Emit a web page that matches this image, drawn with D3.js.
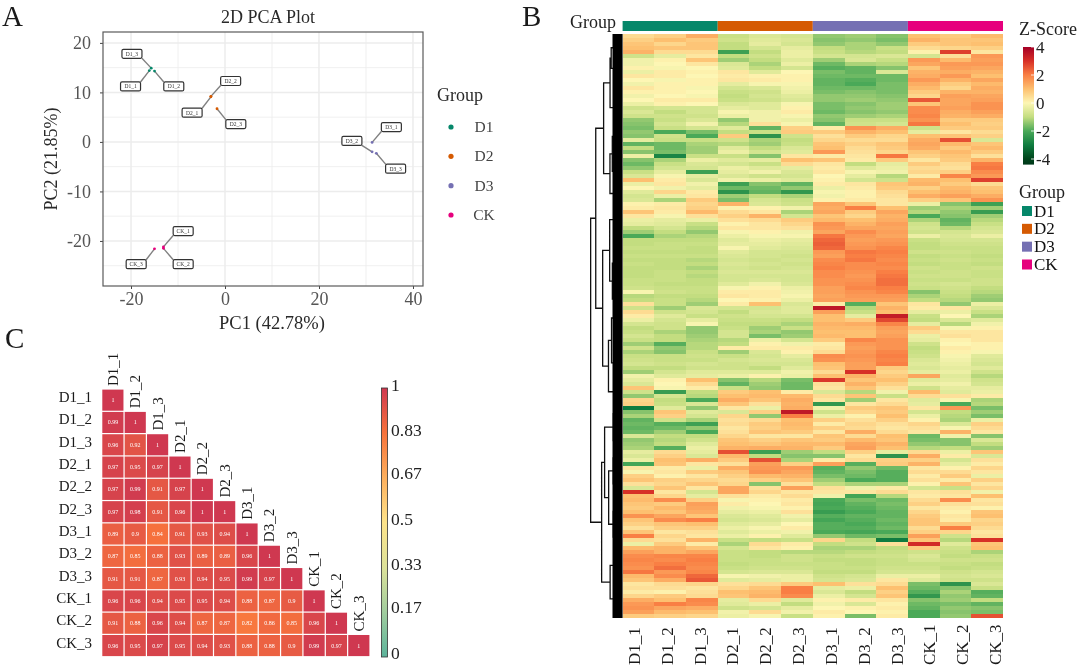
<!DOCTYPE html>
<html>
<head>
<meta charset="utf-8">
<script src="https://cdn.jsdelivr.net/npm/d3@7"></script>
<style>
html, body { margin: 0; padding: 0; background: #fff; }
svg { display: block; filter: blur(0.35px); }
text { font-family: "Liberation Serif", serif; }
</style>
</head>
<body>
<svg id="fig" width="1080" height="668"></svg>
<script>
// samples and groups
var groups = ["D1", "D2", "D3", "CK"];
var groupColors = ["#05876a", "#d55a02", "#7570b3", "#e6007d"];
var samples = ["D1_1", "D1_2", "D1_3", "D2_1", "D2_2", "D2_3", "D3_1", "D3_2", "D3_3", "CK_1", "CK_2", "CK_3"];

// PCA scores, same order as samples
var pc1 = [-16.1, -15.0, -15.7, -3.0, -3.0, -1.7, 31.3, 31.3, 32.2, -13.1, -13.1, -15.0];
var pc2 = [14.4, 14.3, 14.9, 9.1, 9.2, 6.7, -0.1, -2.0, -2.3, -21.2, -21.5, -21.6];
// where the repelled labels sit, in PC units
var labelPc1 = [-20.1, -10.9, -19.8, -7.0, 1.2, 2.3, 35.4, 27.0, 36.3, -8.9, -8.9, -18.9];
var labelPc2 = [11.2, 11.2, 17.8, 5.9, 12.3, 3.6, 3.0, 0.2, -5.4, -18.0, -24.7, -24.7];
var pcaXTicks = [-20, 0, 20, 40];
var pcaYTicks = [-20, -10, 0, 10, 20];
var pcaXMinor = [-10, 10, 30];
var pcaYMinor = [-25, -15, -5, 5, 15];

// correlation matrix, lower triangle
var corr = [
  [1],
  [0.99, 1],
  [0.96, 0.92, 1],
  [0.97, 0.95, 0.97, 1],
  [0.97, 0.99, 0.91, 0.97, 1],
  [0.97, 0.98, 0.91, 0.96, 1, 1],
  [0.89, 0.9, 0.84, 0.91, 0.93, 0.94, 1],
  [0.87, 0.85, 0.88, 0.93, 0.89, 0.89, 0.96, 1],
  [0.91, 0.91, 0.87, 0.93, 0.94, 0.95, 0.99, 0.97, 1],
  [0.96, 0.96, 0.94, 0.95, 0.95, 0.94, 0.88, 0.87, 0.9, 1],
  [0.91, 0.88, 0.96, 0.94, 0.87, 0.87, 0.82, 0.86, 0.85, 0.96, 1],
  [0.96, 0.95, 0.97, 0.95, 0.94, 0.93, 0.88, 0.88, 0.9, 0.99, 0.97, 1]
];
var corrTicks = [0, 0.17, 0.33, 0.5, 0.67, 0.83, 1];
var corrColors = ["#5cb39b", "#a2cd9e", "#dce29a", "#fde38a", "#fdae5c", "#f8743c", "#cf3850"];

// heatmap z-scores, top to bottom
var heatTop = [
  [.5,.7,1.3,-.9,-.6,-.7,-1.4,-1.3,-1.5,1,.8,1.1],
  [.7,1,.8,-.8,-.5,-.6,-1.5,-1.4,-1.6,1.2,.9,.9],
  [.9,.6,.9,-1,-.4,-.7,-1.4,-1.2,-1.4,.8,.9,1],
  [1,.9,.9,-1,-.7,-.4,-1,-1.2,-.9,.5,.6,.7],
  [1.2,.5,.5,-2.2,-1,-.3,-.9,-1.1,-1,.1,2.8,.3],
  [-.8,-.4,.3,-1,-.8,-.3,-.7,-.7,-.6,-.7,.4,1.6],
  [-.2,.1,.9,-1.3,-1,-.5,-1.3,-.6,-.9,1.6,1.1,1.5],
  [-.2,0,.3,-.6,-1.2,-.3,-1.7,-1.2,-1.1,1.4,1.6,1.6],
  [.1,-.1,0,-.5,-1,-.7,-1.9,-1.8,-1.5,.9,1.5,1.4],
  [-.3,.2,.1,.3,-.5,0,-1.6,-1.8,-.6,1.2,1.3,1.2],
  [.3,.2,0,.2,.1,.1,-1.7,-1.7,-1.7,1.3,1.6,1],
  [0,-.1,.1,.3,.2,.1,-1.8,-1.9,-1.7,1.6,1.2,1.4],
  [-.2,.1,.1,-.4,-.1,-.1,-1.8,-2,-1.6,1.3,.8,1.1],
  [.3,.1,-.1,-.7,-.6,-.2,-1.7,-1.7,-1.6,1.1,.6,1.3],
  [.1,.1,0,-.9,-.8,-.3,-1.6,-1.5,-1.6,.8,1.2,1.2],
  [-.2,0,-.1,-1,-.7,-.5,-1.4,-1.4,-1.5,.6,1.5,1.4],
  [0,.2,.2,-.9,-.8,-.6,-1.4,-1.3,-1.4,2.5,1.4,1.5],
  [-.3,.1,0,-.6,-.5,-.1,-1.6,-1.5,-1.3,.9,1.4,1.7],
  [-.8,-.7,-.7,-.4,-.5,.1,-1.6,-1.4,-1.3,1.8,1.5,1.7],
  [-.6,-1,-.7,-.1,-.2,.2,-1.7,-1.5,-1.4,1.8,1.3,1.5],
  [-.8,-.8,-.8,-.3,-.2,-.1,-1.4,-1.3,-1.2,1.9,1.2,1.3],
  [-1.4,-.9,-.6,-1.4,-.2,-.3,-1.5,-.9,-.9,1.7,.8,.8],
  [-1.5,-.7,-.2,-1.1,.4,-.1,-1.8,-.8,-.7,2.1,1,.7],
  [-1.6,-.9,-.7,-.5,-1.8,.7,.2,1.7,1.3,-.8,.8,.8],
  [-1.4,-2,-1.6,-1,-.9,.8,.8,1.2,1,-.4,.3,.5],
  [-1.5,-.8,-2,.8,-2.5,-.8,.4,.8,.6,1,.9,.7],
  [-.4,-.9,-.9,-.8,-1.2,-1,.6,.5,.5,1.3,2.6,-.6],
  [-1.8,-1.7,-1.2,-1.1,-1.3,-.9,.9,.7,.9,1.4,1.1,.9],
  [-1,-1.7,-1.3,-.5,-1,-.6,1,.5,.8,1.3,.8,1.1],
  [-1.5,-1.6,-1.3,-.3,-.7,-.5,1.6,.4,.6,.9,1.1,.8],
  [-.3,-2.8,-.9,-.9,-1.5,.3,.2,.3,2.1,.7,.9,.4],
  [-1.5,-1.2,-.3,-.5,-.4,1,.9,.2,.8,.3,.8,1.2],
  [-1.7,-.9,-.6,-.7,-.9,.5,.3,-1,-.4,.8,.5,2],
  [-1.4,-.7,-.7,-.3,-.5,-.4,.2,-.5,-.3,.5,.4,2.1],
  [-.9,-.4,-2.2,-.4,-.2,-.6,.3,-.1,-.2,.6,.7,1.8],
  [-.6,-.1,-.4,-.6,-.8,-.7,0,-.4,-1.1,.2,1.9,1.6],
  [1,.2,-.6,-.2,-.3,-.5,.1,-.7,-.8,1.1,1,2.8]
];
var heatUpper = [
  [-.3,.3,-.2,-2.2,-1.5,-1.8,.2,.3,.9,1.2,.8,.5],
  [0,-.2,-.4,-1.7,-1.7,-1.4,-.3,.2,.8,.7,1.1,.9],
  [-.5,.6,.2,-2.5,-1.8,-2.4,-.1,.1,.5,1,1.2,1],
  [-.7,-.3,.3,-1.3,-1,-1.2,-.2,.1,.4,1.3,1.5,1.3],
  [-.6,-1.2,.8,-1.6,-.7,-.9,.1,.2,.3,.7,.9,1.7],
  [.1,.2,.6,1.2,-.6,-.8,1.4,.9,.3,-.3,-1.5,-2.2],
  [.2,.3,.7,.1,.1,-.2,1.3,2,1,-1.3,-1.2,-1.3],
  [.9,.2,1.1,.5,.3,-1.2,1.4,.8,1.4,-1.1,-1.4,-2.3],
  [.3,-.1,.4,.7,1.2,-.7,.9,.6,1.2,-2,-1.5,-1.3],
  [-.3,-.4,-.3,.4,.5,.8,1.1,1,1.3,-1.2,-1.8,-1.1],
  [-.4,-.5,-.9,.1,.3,.6,1.7,1.2,1.5,-.8,-1.7,-.9],
  [-1,-.7,-1.1,.3,.3,.4,1.6,1.4,1.4,-.7,-1.1,-.7],
  [-1.3,-1,-1.4,-.1,.1,-.2,1.4,1.8,1.5,-.8,-.7,-.6],
  [-2,-1.2,-1.1,-.3,-.1,-.1,2.1,1.6,1.4,-.3,-.6,-.3],
  [-1,-1,-1,-.5,-.3,-.4,2.3,1.5,1.6,-.9,-.7,-.7],
  [-1,-.9,-.9,-.4,-.4,-.5,2.4,1.6,1.7,-1,-.8,-.8],
  [-.9,-.9,-1,-.1,-.5,-.6,2.3,1.7,1.9,-1,-.9,-.9],
  [-1,-1,-1,-.5,-.7,-.7,1.6,2.1,2,-.8,-.8,-.9],
  [-.9,-.9,-.9,-.6,-.7,-.8,1.5,2,1.9,-1,-.9,-1],
  [-1,-1,-1.1,-.7,-.8,-.7,1.8,2.1,1.8,-.9,-.8,-.9],
  [-.9,-1,-1,-.6,-.7,-.8,1.9,1.8,1.9,-1,-.9,-1],
  [-1,-1,-1.2,-.7,-.8,-.7,2,1.8,1.8,-.8,-.9,-.8],
  [-1,-.9,-1,-.6,-.6,-.6,1.8,1.7,2,-.9,-.8,-.9],
  [-1,-.9,-1.1,-.7,-.7,-.7,1.8,1.6,2.1,-.8,-.8,-.9],
  [-.9,-.9,-1,-.7,-.6,-.7,1.7,1.7,2.2,-.9,-.9,-.8],
  [-.9,-1,-1,-.5,-.2,-.6,1.7,1.8,2.2,-.8,-.7,-.8],
  [-.8,-.9,-.9,-.1,.1,-.3,1.5,1.9,2,-.9,-.8,-1],
  [-.1,-.8,-.9,.2,.2,-.2,1.5,1.7,1.9,-1.5,-.9,-1.1],
  [-1.1,-1,-1,.3,.2,-.1,1.4,1.6,1.6,-1.2,-1,-1.3],
  [-1,-.9,-1.1,0,.1,-.3,1.5,1.5,1.5,-1,-1.1,-1.4],
  [.4,-.9,-1.3,.2,1,-.6,.2,-1.9,.9,.3,-1.4,-.3],
  [-.8,-1.3,-.6,-.7,-.7,-.5,3.5,-1.1,1.2,.2,.3,-.6],
  [.5,-.8,-.7,-1,-.6,-.5,1.5,-.9,1,-.4,-.3,-.9],
  [.2,-.5,-.9,-.8,-.7,-.7,1,-.4,3.4,-.9,0,-1.2],
  [-.3,-.7,-.4,-.9,-.9,-1,1,.8,2.7,-1,-.6,-.5]
];
var heatLower = [
  [-.7,-.8,-.1,-1,-1,-1.2,1.2,1.3,1.9,-.4,-1.1,-.2],
  [-1,-.8,-1.4,-.9,-1.3,-.9,1.1,1.1,1.5,.8,-.1,.1],
  [-.9,-1.2,-1.4,-.7,-1.2,-1.4,1,1,1.4,.5,.3,.3],
  [-.7,-1,-1.3,-.7,-1.6,-1.3,1.1,1,1.5,-.3,.4,.3],
  [-.9,-1,-1.2,-1.1,-.3,-.7,.8,1.9,1.7,-.4,.1,.3],
  [-1.3,-1.9,-1.1,-1,.1,-.2,.2,1.6,1.7,-.8,0,.1],
  [-.8,-1.4,-1.1,.2,.2,.2,.3,1.5,1.7,-1,.2,.1],
  [-1.2,-1.5,-.9,-1.3,-.6,.1,.5,1.6,1.9,-.9,.1,-.1],
  [-.9,-.9,-.8,-.9,-.7,-.4,1.8,1.7,2,-.8,-.1,-.5],
  [-.8,-.9,-.9,-.7,-.6,-.6,1.7,1.6,1.9,-.6,-.2,-.6],
  [-.7,-.8,-.7,-.8,-.7,-.7,1,1.5,2,-.5,-.3,-.7],
  [-1,-1,-.8,-.8,-1,-.5,.9,1.5,.8,-.6,-.4,-.5],
  [-1.3,-.7,-.5,-.5,-.5,-.2,.5,3,.6,-.4,-.3,-.8],
  [-.2,-.5,-.4,-.3,.1,-.3,1,1.2,.8,1.4,-.5,-1.1],
  [-.4,.1,1,-1.5,-1.1,-1.6,2.9,.9,1,-.5,-.4,-.8],
  [-.6,0,.5,-1.8,-1.3,-1.7,.4,1.2,.7,-.3,-.2,-.7],
  [.9,-.1,.2,-.9,-1.4,-1.7,.3,.9,.4,-.8,-.4,-.4],
  [-.8,-2.3,-1,.8,1,.2,-.6,-1.1,-.2,1.1,-.5,-.3],
  [-1.4,-.7,-1.1,1,1.1,1.1,.5,.9,-.9,.5,.4,.2],
  [.6,-1,-2,1.3,.9,1.3,.3,-1.3,.3,-.5,-.1,-1.2],
  [.7,-.9,-.6,.9,.4,1.2,-2.4,.3,.5,-.4,-2,-1.1],
  [-3,-.5,-1.4,.3,-.3,1.3,-.2,.8,.9,.3,1.6,-1.6],
  [-1.5,.9,-.5,-.6,.7,3.5,-.8,.6,.8,-.7,-1,-1.3],
  [-1.2,.7,-.7,.6,-1.4,2,-.3,.1,1,-.3,-1.1,-1.6],
  [-1.8,-.8,-1.2,.4,.5,1,.7,.4,.7,.1,-1.2,-.3],
  [-1.7,-1.9,-2.2,.5,.8,1.1,.2,.6,.4,.6,-.6,.7],
  [-1.8,-1.7,-1.4,.3,.7,1,.7,.5,.3,.4,-.1,.5],
  [-1.7,-1.3,-2,.4,.9,.8,.3,1.3,.5,.3,1.2,.3],
  [-.6,-1,-1,.6,.3,.3,.9,.5,1,-1.7,-.2,-1.5],
  [-1.4,-1.1,-.8,.9,.7,.9,.8,1.1,.9,-1.6,-1.5,-.6],
  [-1.3,-1,-.5,1,.9,1.1,1.1,1.4,1.2,-1.4,-1.5,-1],
  [-1.2,-1.9,-.3,1.2,1.3,1.2,.8,1.5,1,-1.1,-1,-1.3],
  [-.4,.5,-.4,2.6,-2.2,-1.3,-1,.7,-.4,.5,-.3,.9],
  [-.6,.7,-.6,1.1,-1,-1.5,-1.5,.3,-2.5,1.3,.2,-.6],
  [-.3,1,1.3,.8,2.6,-1.2,.2,.5,.7,.7,-.7,.4],
  [-2.1,.9,.3,.4,1.5,.7,1.5,-1.9,.8,1.2,-.4,.2]
];
var heatBottom = [
  [.3,.2,-.3,1.3,1.6,1.6,-1.9,-1.4,-1.7,.3,.1,.6],
  [-.1,.3,.8,.9,1.7,1.4,-1.8,-1.6,-1.9,.5,.5,.3],
  [.7,.1,.3,.7,1.1,1.2,-1.6,-1.7,-1.9,.2,.8,-.3],
  [.9,.7,.6,.5,.7,.9,-1.3,-2,-1.9,.4,.2,.7],
  [.4,.6,.9,.6,-1.5,.4,-1,-1.2,-1.2,.1,.9,.3],
  [-.6,.9,.3,1.4,.4,1.5,.4,-.2,.2,-.7,-.9,.6],
  [3,.3,-.7,1.4,.6,.3,.3,.3,.5,.3,.4,-.2],
  [1,.6,-.4,.4,.2,.5,-.2,-2.1,-1.1,.2,.3,1],
  [1.1,1.8,.7,-.1,.1,.2,-2,-1.6,-1.7,.5,1.8,.3],
  [.9,.8,1.5,.2,0,.3,-2.1,-1.8,-1.6,.7,.4,.4],
  [.8,1.1,1.4,-.2,-.1,.1,-2,-1.9,-1.7,.3,.2,.1],
  [1,.9,1.3,-.4,-.3,.4,-2.3,-2,-1.8,.6,.1,.9],
  [1.7,1.4,.9,-.6,-.5,-.2,-1.9,-1.8,-1.8,.8,.3,1],
  [.9,1.8,2,-.7,-.6,-.4,-2.1,-1.9,-1.7,.9,.2,.6],
  [.7,.9,1,-.5,-.4,0,-1.9,-2,-1.8,.9,.8,.7],
  [.4,.7,.7,-.3,-.1,.2,-1.9,-1.9,-1.7,.5,2,.5],
  [.9,.3,.4,-.5,-.3,-.2,-2,-2.1,-2,.7,.6,.3],
  [2,.6,.3,-.3,.1,-.5,-1.4,-1.7,-1.6,1.5,-.8,.4],
  [.5,.4,1.2,-.9,-1,-.9,.6,-1,-3,.9,-1.1,3],
  [-.3,.8,.2,-1.2,.5,.2,-1,-.8,.4,3.1,-.5,.9],
  [1.1,1.2,.9,-.7,.3,.1,-1.2,-1.2,-1,.8,-.8,1],
  [1.5,1.2,1.4,-.9,-1,-1.1,-1.1,-1,-.9,-.8,-.9,-1.2],
  [1.8,1.9,1.9,-.9,-1,-.8,-.9,-.8,-.8,-.6,-1,-.9],
  [1.9,1.8,2,-.9,-.9,-.8,-1,-1,-.9,-.7,-.8,-.8],
  [1.8,2,1.9,-1,-.9,-.9,-.9,-1,-.9,-.9,-.9,-1],
  [1.7,2.2,1.8,-.9,-.8,-.8,-.9,-.9,-.8,-.8,-1,-.9],
  [2.1,1.6,1.9,-.7,-.6,-.6,-1,-1,-.7,-.7,-.8,-.7],
  [1.1,1.8,2.3,-.1,-.2,-.3,-.8,-.7,-.3,-.3,-.7,-.6],
  [.9,1.3,2.5,-.5,-.4,-.3,-.7,-.6,.3,-.5,-.8,-.8],
  [.3,.5,.6,.4,.5,.8,1,.4,.5,-1.6,-2.5,-.6],
  [.4,.4,.3,.6,.9,2,-.4,-.3,1,-1.7,-1.5,-.9],
  [.2,.1,.4,1,1.1,2,-.6,-1,.7,-1.9,-1.2,-1.9],
  [.6,.8,.5,.9,1.2,1.8,-.3,-.7,.9,-2.4,-1.4,-1.8],
  [1.3,1,1.9,-.4,.5,-.5,.1,.2,.3,-1.5,-1.3,-1],
  [1.6,2,1.8,-.5,-.3,-1,-.2,-.6,.1,-1.7,-1.6,-1.8],
  [1.7,1.4,1.3,-.8,-.7,-.4,0,.1,.2,-1.8,-1.4,-1.5],
  [1.5,1.1,1,-.2,.5,-.2,.2,0,.1,-2,-1.5,-1.6],
  [.8,.7,.6,-.3,-.1,-.9,.1,-1.6,.2,-2,-1.4,2.6]
];
var heatRows = heatTop.concat(heatUpper, heatLower, heatBottom);
var zTicks = [-4, -2, 0, 2, 4];
var zStops = [-4.4, -4, -3, -2, -1, 0, 1, 2, 3, 4];
var zColors = ["#00381a", "#00441b", "#0f7c40", "#4aa958", "#c3dd80", "#fdf6b4", "#fdc070", "#f97f44", "#d73027", "#a50026"];

var svg = d3.select("#fig");
var ink = "#1a1a1a";
var tickInk = "#555";

function txt(x, y, s, size, anchor, fill) {
  return svg.append("text").attr("x", x).attr("y", y).text(s)
    .attr("font-size", size).attr("text-anchor", anchor || "start")
    .attr("fill", fill || ink);
}

// panel letters
txt(2, 26, "A", 29);
txt(522, 26, "B", 29);
txt(5, 348, "C", 29);

// ---------- A: PCA ----------
var pca = { left: 103, right: 423, top: 32, bottom: 286 };
var px = d3.scaleLinear().domain([-25.96, 42.13]).range([pca.left, pca.right]);
var py = d3.scaleLinear().domain([22.2, -29.1]).range([pca.top, pca.bottom]);
var gridG = svg.append("g");
function gridLines(xs, ys, w) {
  gridG.selectAll(null).data(xs).enter().append("line")
    .attr("x1", px).attr("x2", px).attr("y1", pca.top).attr("y2", pca.bottom)
    .attr("stroke", "#ececec").attr("stroke-width", w);
  gridG.selectAll(null).data(ys).enter().append("line")
    .attr("y1", py).attr("y2", py).attr("x1", pca.left).attr("x2", pca.right)
    .attr("stroke", "#ececec").attr("stroke-width", w);
}
gridLines(pcaXMinor, pcaYMinor, 0.8);
gridLines(pcaXTicks, pcaYTicks, 1.5);

var xAxisG = svg.append("g").attr("transform", "translate(0," + pca.bottom + ")")
  .call(d3.axisBottom(px).tickValues(pcaXTicks).tickFormat(String).tickSize(3).tickPadding(3));
var yAxisG = svg.append("g").attr("transform", "translate(" + pca.left + ",0)")
  .call(d3.axisLeft(py).tickValues(pcaYTicks).tickFormat(String).tickSize(3).tickPadding(9));
[xAxisG, yAxisG].forEach(function(g) {
  g.select(".domain").remove();
  g.selectAll("line").attr("stroke", "#444");
  g.selectAll("text").attr("font-size", 18).attr("fill", tickInk)
    .attr("font-family", "Liberation Serif, serif");
});
svg.append("rect").attr("x", pca.left).attr("y", pca.top)
  .attr("width", pca.right - pca.left).attr("height", pca.bottom - pca.top)
  .attr("fill", "none").attr("stroke", "#5a5a5a").attr("stroke-width", 1.2);

txt(268, 23, "2D PCA Plot", 18, "middle", "#2a2a2a");
txt(272, 329, "PC1 (42.78%)", 18.5, "middle", "#2a2a2a");
txt(0, 0, "PC2 (21.85%)", 18, "middle", "#2a2a2a")
  .attr("transform", "translate(57,159) rotate(-90)").attr("x", 0).attr("y", 0);

// label boxes and the lines leading to them
var boxW = 20, boxH = 9;
samples.forEach(function(s, i) {
  var cx = px(labelPc1[i]), cy = py(labelPc2[i]);
  var ax = px(pc1[i]), ay = py(pc2[i]);
  var ex = Math.max(cx - boxW / 2, Math.min(cx + boxW / 2, ax));
  var ey = Math.max(cy - boxH / 2, Math.min(cy + boxH / 2, ay));
  svg.append("line").attr("x1", ax).attr("y1", ay).attr("x2", ex).attr("y2", ey)
    .attr("stroke", "#808080").attr("stroke-width", 1.4);
  svg.append("rect").attr("x", cx - boxW / 2).attr("y", cy - boxH / 2)
    .attr("width", boxW).attr("height", boxH).attr("rx", 1.5)
    .attr("fill", "#fff").attr("stroke", "#333").attr("stroke-width", 1.2);
  txt(cx, cy + 2, s, 5.5, "middle", "#333");
});
svg.selectAll(".pt").data(samples).enter().append("circle").attr("class", "pt")
  .attr("cx", function(d, i) { return px(pc1[i]); })
  .attr("cy", function(d, i) { return py(pc2[i]); })
  .attr("r", 1.4)
  .attr("fill", function(d, i) { return groupColors[Math.floor(i / 3)]; });

txt(437, 101, "Group", 18, "start", "#2a2a2a");
var legendY = d3.scalePoint().domain(groups).range([127, 215]);
groups.forEach(function(g, i) {
  svg.append("circle").attr("cx", 451).attr("cy", legendY(g)).attr("r", 2.6).attr("fill", groupColors[i]);
  txt(484, legendY(g) + 5, g, 15.5, "middle", "#444");
});

// ---------- C: correlation ----------
var cx0 = d3.scaleBand().domain(samples).range([101.7, 370]);
var cy0 = d3.scaleBand().domain(samples).range([389, 656.7]);
var corrColor = d3.scaleLinear().domain(corrTicks).range(corrColors);
corr.forEach(function(row, r) {
  row.forEach(function(v, c) {
    svg.append("rect").attr("x", cx0(samples[c]) + 0.6).attr("y", cy0(samples[r]) + 0.6)
      .attr("width", cx0.bandwidth() - 1.2).attr("height", cy0.bandwidth() - 1.2)
      .attr("fill", corrColor(v));
    txt(cx0(samples[c]) + cx0.bandwidth() / 2, cy0(samples[r]) + cy0.bandwidth() / 2 + 2, String(v), 6, "middle", "#fff");
  });
  txt(92, cy0(samples[r]) + cy0.bandwidth() / 2 + 2, samples[r], 15, "end");
  svg.append("text").text(samples[r]).attr("font-size", 15).attr("fill", ink)
    .attr("transform", "translate(" + (cx0(samples[r]) + cx0.bandwidth() / 2 + 5) + "," + (cy0(samples[r]) - 3) + ") rotate(-90)");
});

var defs = svg.append("defs");
var gradC = defs.append("linearGradient").attr("id", "corrGrad").attr("x1", 0).attr("x2", 0).attr("y1", 1).attr("y2", 0);
corrTicks.forEach(function(t, i) {
  gradC.append("stop").attr("offset", t).attr("stop-color", corrColors[i]);
});
svg.append("rect").attr("x", 381.5).attr("y", 388).attr("width", 6).attr("height", 269)
  .attr("fill", "url(#corrGrad)").attr("stroke", "#333").attr("stroke-width", 0.8);
var corrBarY = d3.scaleLinear().domain([0, 1]).range([653, 385]);
corrTicks.forEach(function(t) {
  txt(391, corrBarY(t) + 5.5, String(t), 17.5, "start", "#222");
});

// ---------- B: heatmap ----------
var heat = { left: 622.6, right: 1003, top: 34, bottom: 618 };
var hx = d3.scaleBand().domain(samples).range([heat.left, heat.right]);
var hy = d3.scaleBand().domain(d3.range(heatRows.length)).range([heat.top, heat.bottom]);
var zColor = d3.scaleLinear().domain(zStops).range(zColors).clamp(true);
var hG = svg.append("g").attr("shape-rendering", "crispEdges");
heatRows.forEach(function(row, r) {
  hG.selectAll(null).data(row).enter().append("rect")
    .attr("x", function(d, c) { return hx(samples[c]); })
    .attr("y", hy(r))
    .attr("width", hx.bandwidth() + 0.3)
    .attr("height", hy.bandwidth() + 0.3)
    .attr("fill", function(d) { return zColor(d); });
});

// group strip over the heatmap
var hGroup = d3.scaleBand().domain(groups).range([heat.left, heat.right]);
groups.forEach(function(g, i) {
  svg.append("rect").attr("x", hGroup(g)).attr("y", 21).attr("width", hGroup.bandwidth()).attr("height", 10)
    .attr("fill", groupColors[i]);
});
txt(570, 28, "Group", 18, "start", "#222");

// sample names under the heatmap run slightly wider than the columns
var hLabelX = d3.scalePoint().domain(samples).range([640, 1001]);
samples.forEach(function(s) {
  svg.append("text").text(s).attr("font-size", 17).attr("fill", ink)
    .attr("transform", "translate(" + hLabelX(s) + ",665) rotate(-90)");
});

// dendrogram: cut the row order at the sharpest change between neighbours
function rowDist(a, b) {
  return Math.sqrt(d3.sum(heatRows[a], function(v, i) { return (v - heatRows[b][i]) * (v - heatRows[b][i]); }));
}
function cutRows(lo, hi) {
  if (lo === hi) return { row: lo };
  var n = hi - lo + 1;
  var from = n > 8 ? lo + Math.floor(n * 0.3) : lo;
  var to = n > 8 ? lo + Math.floor(n * 0.7) : hi - 1;
  var best = from;
  for (var k = from; k <= to; k++) {
    if (rowDist(k, k + 1) > rowDist(best, best + 1)) best = k;
  }
  return { gap: rowDist(best, best + 1), children: [cutRows(lo, best), cutRows(best + 1, hi)] };
}
var tree = d3.hierarchy(cutRows(0, heatRows.length - 1)).count();
var maxGap = d3.max(tree.descendants(), function(d) { return d.data.gap || 0; });
var dx = d3.scalePow().exponent(0.3).domain([1, heatRows.length]).range([0, 32]);
tree.eachAfter(function(d) {
  if (d.children) {
    d.py = d3.mean(d.children, function(c) { return c.py; });
    var h = dx(d.value) * (0.75 + 0.25 * d.data.gap / maxGap);
    d.depthX = Math.max(h, d3.max(d.children, function(c) { return c.depthX; }) + 0.6);
  } else {
    d.py = hy(d.data.row) + hy.bandwidth() / 2;
    d.depthX = 0;
  }
});
var dendPath = d3.path();
tree.each(function(d) {
  if (!d.children) return;
  var x = 622 - d.depthX;
  d.children.forEach(function(c) {
    dendPath.moveTo(x, d.py);
    dendPath.lineTo(x, c.py);
    dendPath.lineTo(622 - c.depthX, c.py);
  });
});
svg.append("path").attr("d", dendPath.toString()).attr("fill", "none")
  .attr("stroke", "#111").attr("stroke-width", 1.3);
svg.append("rect").attr("x", 612.5).attr("y", heat.top).attr("width", 10.1).attr("height", heat.bottom - heat.top)
  .attr("fill", "#000");

// z-score legend
txt(1019, 35, "Z-Score", 18, "start", "#222");
var zBarY = d3.scaleLinear().domain([4, -4]).range([47, 159]);
var gradZ = defs.append("linearGradient").attr("id", "zGrad").attr("x1", 0).attr("x2", 0).attr("y1", 1).attr("y2", 0);
zStops.forEach(function(v, i) {
  gradZ.append("stop").attr("offset", (v + 4.4) / 8.4).attr("stop-color", zColors[i]);
});
svg.append("rect").attr("x", 1023).attr("y", zBarY(4)).attr("width", 11)
  .attr("height", zBarY(-4.4) - zBarY(4)).attr("fill", "url(#zGrad)");
zTicks.forEach(function(t) {
  txt(1036, zBarY(t) + 5.5, String(t), 17, "start", "#222");
  svg.append("line").attr("x1", 1031).attr("x2", 1034).attr("y1", zBarY(t)).attr("y2", zBarY(t))
    .attr("stroke", "#fff").attr("stroke-width", 0.8);
});

// group legend
txt(1019, 198, "Group", 18, "start", "#222");
var gLegendY = d3.scalePoint().domain(groups).range([211, 264.5]);
groups.forEach(function(g, i) {
  svg.append("rect").attr("x", 1022).attr("y", gLegendY(g) - 5).attr("width", 10).attr("height", 10)
    .attr("fill", groupColors[i]);
  txt(1034, gLegendY(g) + 5.5, g, 17, "start", "#111");
});
</script>
</body>
</html>
